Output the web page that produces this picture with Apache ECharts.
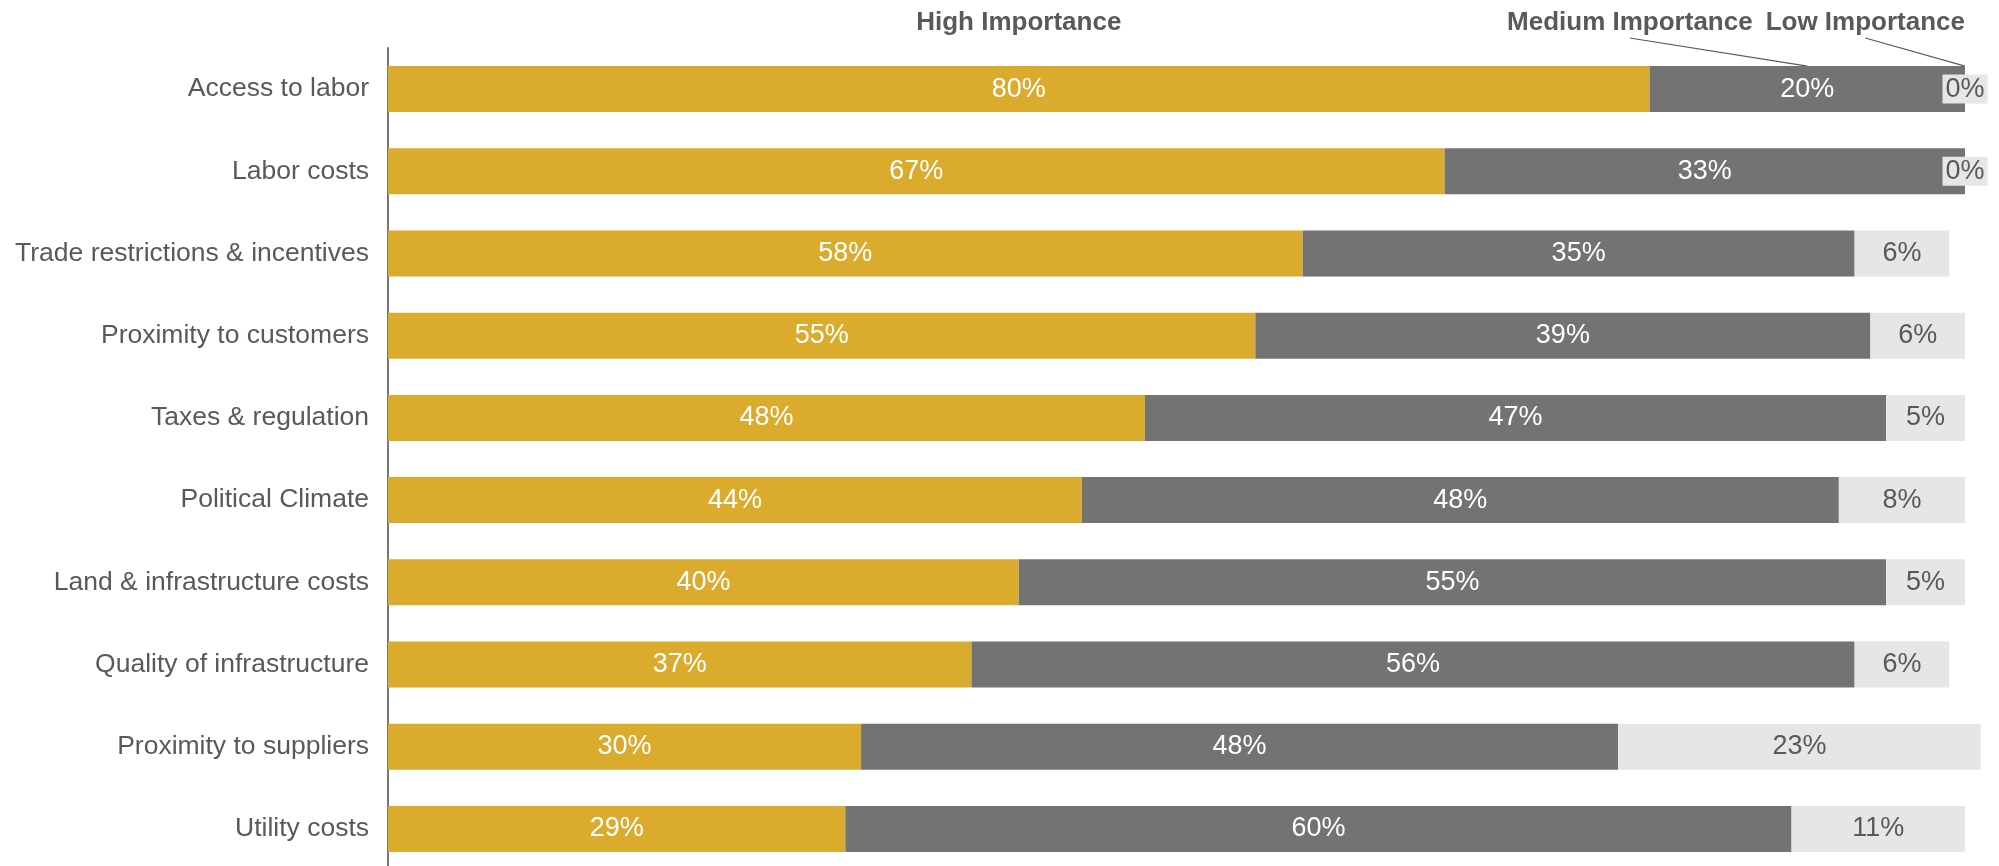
<!DOCTYPE html>
<html>
<head>
<meta charset="utf-8">
<script src="https://cdn.jsdelivr.net/npm/echarts@6/dist/echarts.min.js"></script>
<style>
  html, body { margin: 0; padding: 0; background: #ffffff; }
  #chart { width: 1999px; height: 866px; }
</style>
</head>
<body>
<div id="chart"></div>
<script>
// Location factors, share of respondents by importance level (%)
const categories = [
  'Access to labor',
  'Labor costs',
  'Trade restrictions & incentives',
  'Proximity to customers',
  'Taxes & regulation',
  'Political Climate',
  'Land & infrastructure costs',
  'Quality of infrastructure',
  'Proximity to suppliers',
  'Utility costs'
];
const highImportance   = [80, 67, 58, 55, 48, 44, 40, 37, 30, 29];
const mediumImportance = [20, 33, 35, 39, 47, 48, 55, 56, 48, 60];
const lowImportance    = [0, 0, 6, 6, 5, 8, 5, 6, 23, 11];
const seriesNames = ['High Importance', 'Medium Importance', 'Low Importance'];

const FONT = '"Liberation Sans", Arial, sans-serif';
const TEXT_GREY = '#595959';
const BAR_WIDTH = 46;

const chart = echarts.init(document.getElementById('chart'), null, { renderer: 'canvas' });

function barSeries(name, data, color, labelColor, labelBg) {
  return {
    name: name,
    type: 'bar',
    stack: 'total',
    data: data,
    barWidth: BAR_WIDTH,
    clip: false,
    itemStyle: { color: color },
    label: {
      show: true,
      position: 'inside',
      formatter: '{c}%',
      color: labelColor,
      fontFamily: FONT,
      fontSize: 27,
      backgroundColor: labelBg,
      padding: labelBg ? [1, 3, 1, 3] : 0
    },
    emphasis: { disabled: true },
    animation: false
  };
}

chart.setOption({
  animation: false,
  grid: {
    left: 388,
    right: 34,
    top: 48,
    height: 822,
    containLabel: false,
    outerBoundsMode: 'none'
  },
  xAxis: {
    type: 'value',
    min: 0,
    max: 100,
    show: false
  },
  yAxis: {
    type: 'category',
    data: categories,
    inverse: true,
    axisLine: { show: true, lineStyle: { color: '#767676', width: 2 } },
    axisTick: { show: false },
    splitLine: { show: false },
    axisLabel: {
      color: TEXT_GREY,
      fontFamily: FONT,
      fontSize: 26.5,
      margin: 19
    }
  },
  series: [
    barSeries(seriesNames[0], highImportance, '#dbab2e', '#ffffff'),
    barSeries(seriesNames[1], mediumImportance, '#737373', '#ffffff'),
    barSeries(seriesNames[2], lowImportance, '#e6e6e6', TEXT_GREY, '#e6e6e6')
  ]
});

// Series name headers above the first row, with leader lines to their segments
const xPx = v => chart.convertToPixel({ xAxisIndex: 0 }, v);
const yPx = i => chart.convertToPixel({ yAxisIndex: 0 }, i);

const headerFont = 'bold 26px ' + FONT;
const measure = document.createElement('canvas').getContext('2d');
measure.font = headerFont;
const textW = t => measure.measureText(t).width;

const barTop = yPx(0) - BAR_WIDTH / 2;
const highMid = xPx(highImportance[0] / 2);
const medMid = xPx(highImportance[0] + mediumImportance[0] / 2);
const lowMid = xPx(highImportance[0] + mediumImportance[0] + lowImportance[0] / 2);
const barEnd = xPx(100);

const textY = 22.5;
const lineTop = 38;
const lowCenter = barEnd - textW(seriesNames[2]) / 2;
const medRight = barEnd - textW(seriesNames[2]) - 13;
const medCenter = medRight - textW(seriesNames[1]) / 2;

function header(text, cx) {
  return {
    type: 'text',
    x: cx,
    y: textY,
    silent: true,
    style: {
      text: text,
      font: headerFont,
      fill: TEXT_GREY,
      align: 'center',
      verticalAlign: 'middle',
      textAlign: 'center',
      textVerticalAlign: 'middle'
    }
  };
}
function leader(x1, x2) {
  return {
    type: 'line',
    silent: true,
    shape: { x1: x1, y1: lineTop, x2: x2, y2: barTop },
    style: { stroke: TEXT_GREY, lineWidth: 1.2 }
  };
}

chart.setOption({
  graphic: [
    header(seriesNames[0], highMid),
    header(seriesNames[1], medCenter),
    header(seriesNames[2], lowCenter),
    leader(medCenter, medMid),
    leader(lowCenter, lowMid)
  ]
});
</script>
</body>
</html>
